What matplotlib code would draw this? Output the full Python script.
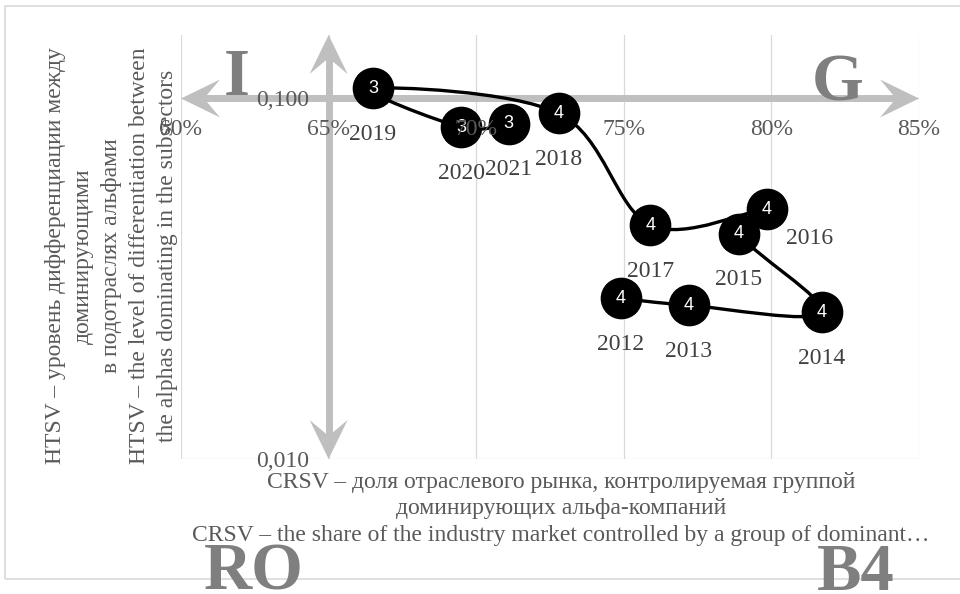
import numpy as np
import matplotlib
matplotlib.use('Agg')
import matplotlib.pyplot as plt
import matplotlib.transforms as mtransforms
from matplotlib.path import Path
from matplotlib.patches import PathPatch, Polygon, Rectangle
from matplotlib.ticker import NullLocator

# данные
years = [2012, 2013, 2014, 2015, 2016, 2017, 2018, 2019, 2020, 2021]
crsv = [74.9, 77.2, 81.7, 78.9, 79.85, 75.9, 72.8, 66.5, 69.5, 71.1]
htsv = [0.0279, 0.0267, 0.0255, 0.0422, 0.0493, 0.0445, 0.0909, 0.1066, 0.0832, 0.0852]
groups = [4, 4, 4, 4, 4, 4, 4, 3, 3, 3]

x_ticks = [60, 65, 70, 75, 80, 85]
x_ticklabels = ['60%', '65%', '70%', '75%', '80%', '85%']
y_ticks = [0.01, 0.1]
y_ticklabels = ['0,010', '0,100']

ylabel_text = ('HTSV – уровень дифференциации между\nдоминирующими\n'
               'в подотраслях альфами\n'
               'HTSV – the level of differentiation between\n'
               'the alphas dominating in the subsectors')
xlabel_text = ('CRSV – доля отраслевого рынка, контролируемая группой\n'
               'доминирующих альфа-компаний\n'
               'CRSV – the share of the industry market controlled by a group of dominant…')

plt.rcParams['font.family'] = ['Liberation Serif', 'DejaVu Serif']

GRAY_ARROW = '#BFBFBF'
GRAY_TEXT = '#595959'
GRAY_BIG = '#7F7F7F'


def smooth_path(xs, ys):
    # сглаженная линия как в Excel (Catmull-Rom -> Безье), в пространстве x / log10(y)
    pts = np.column_stack([xs, np.log10(ys)])
    n = len(pts)
    verts = [pts[0]]
    codes = [Path.MOVETO]
    for i in range(n - 1):
        p0 = pts[i - 1] if i > 0 else pts[i]
        p1 = pts[i]
        p2 = pts[i + 1]
        p3 = pts[i + 2] if i + 2 < n else pts[i + 1]
        verts += [p1 + (p2 - p0) / 6, p2 - (p3 - p1) / 6, p2]
        codes += [Path.CURVE4] * 3
    verts = np.array(verts)
    verts[:, 1] = 10 ** verts[:, 1]
    return Path(verts, codes)


def add_head(ax, fig, x, y, angle):
    # наконечник стрелки (stealth), размеры в пикселях
    verts = np.array([[0, 0], [-39, 19], [-23, 0], [-39, -19]], dtype=float)
    tr = (mtransforms.Affine2D().rotate_deg(angle).scale(1 / fig.dpi)
          + fig.dpi_scale_trans
          + mtransforms.ScaledTranslation(x, y, ax.transData))
    ax.add_patch(Polygon(verts, closed=True, transform=tr, facecolor=GRAY_ARROW,
                         edgecolor='none', zorder=1.5, clip_on=False))


fig = plt.figure(figsize=(9.6, 5.94), dpi=100)
fig.patches.append(Rectangle((5 / 960, 15 / 594), 1.0, 573 / 594, transform=fig.transFigure,
                             fill=False, edgecolor='#D9D9D9', lw=1.2))

pos = [181 / 960, 135 / 594, 738 / 960, 424 / 594]
ax = fig.add_axes(pos)
ax.set_yscale('log')
ax.set_xlim(60, 85)
ax.set_ylim(0.01, 0.15)
ax.set_xticks(x_ticks)
ax.set_yticks(y_ticks)
ax.yaxis.set_minor_locator(NullLocator())
ax.grid(True, color='#D9D9D9', lw=0.9)
ax.set_axisbelow(True)
ax.tick_params(length=0, labelleft=False, labelbottom=False)
for s in ax.spines.values():
    s.set_visible(False)

# оси-стрелки
ax.axhline(0.1, 0.03, 0.97, color=GRAY_ARROW, lw=5, zorder=1.5, solid_capstyle='butt')
ax.axvline(65, 0.05, 0.95, color=GRAY_ARROW, lw=5, zorder=1.5, solid_capstyle='butt')
add_head(ax, fig, 60, 0.1, 180)
add_head(ax, fig, 85, 0.1, 0)
add_head(ax, fig, 65, 0.15, 90)
add_head(ax, fig, 65, 0.01, -90)

# ряд
ax.add_patch(PathPatch(smooth_path(crsv, htsv), fill=False, edgecolor='black', lw=2.4, zorder=2))
ax.plot(crsv, htsv, 'o', ms=29, color='black', ls='none', zorder=3)

label_offsets = {2016: (31, -21)}
for yr, x, y, g in zip(years, crsv, htsv, groups):
    ax.text(x, y, str(g), ha='center', va='center', color='white', fontsize=13,
            family='Liberation Sans', zorder=4)
    ax.annotate(str(yr), (x, y), xytext=label_offsets.get(yr, (0, -33)),
                textcoords='offset points', ha='center', va='center',
                fontsize=17, color='#404040', zorder=4)

# подписи осей поверх ряда
ax2 = fig.add_axes(pos)
ax2.set_yscale('log')
ax2.set_xlim(60, 85)
ax2.set_ylim(0.01, 0.15)
ax2.patch.set_visible(False)
ax2.set_xticks(x_ticks, x_ticklabels)
ax2.set_yticks(y_ticks, y_ticklabels)
ax2.yaxis.set_minor_locator(NullLocator())
ax2.spines['left'].set_position(('data', 65))
ax2.spines['bottom'].set_position(('data', 0.1))
for s in ax2.spines.values():
    s.set_visible(False)
ax2.tick_params(length=0, labelcolor=GRAY_TEXT, labelsize=17)
ax2.tick_params(axis='x', pad=15)
ax2.tick_params(axis='y', pad=14)

ax2.set_ylabel(ylabel_text, fontsize=17, color=GRAY_TEXT, linespacing=1.43,
               ha='center', va='center', multialignment='center')
ax2.yaxis.set_label_coords(-0.0945, 0.479)
ax2.set_xlabel(xlabel_text, fontsize=17, color=GRAY_TEXT, linespacing=1.35,
               ha='center', va='center', multialignment='center')
ax2.xaxis.set_label_coords(0.515, -0.1175)

# квадранты
for txt, px, py in [('I', 237, 95), ('G', 838, 101), ('RO', 254, 590), ('B4', 856, 590)]:
    fig.text(px / 960, 1 - py / 594, txt, fontsize=48, fontweight='bold', color=GRAY_BIG,
             ha='center', va='baseline')

fig.savefig('out.png', dpi=100)
